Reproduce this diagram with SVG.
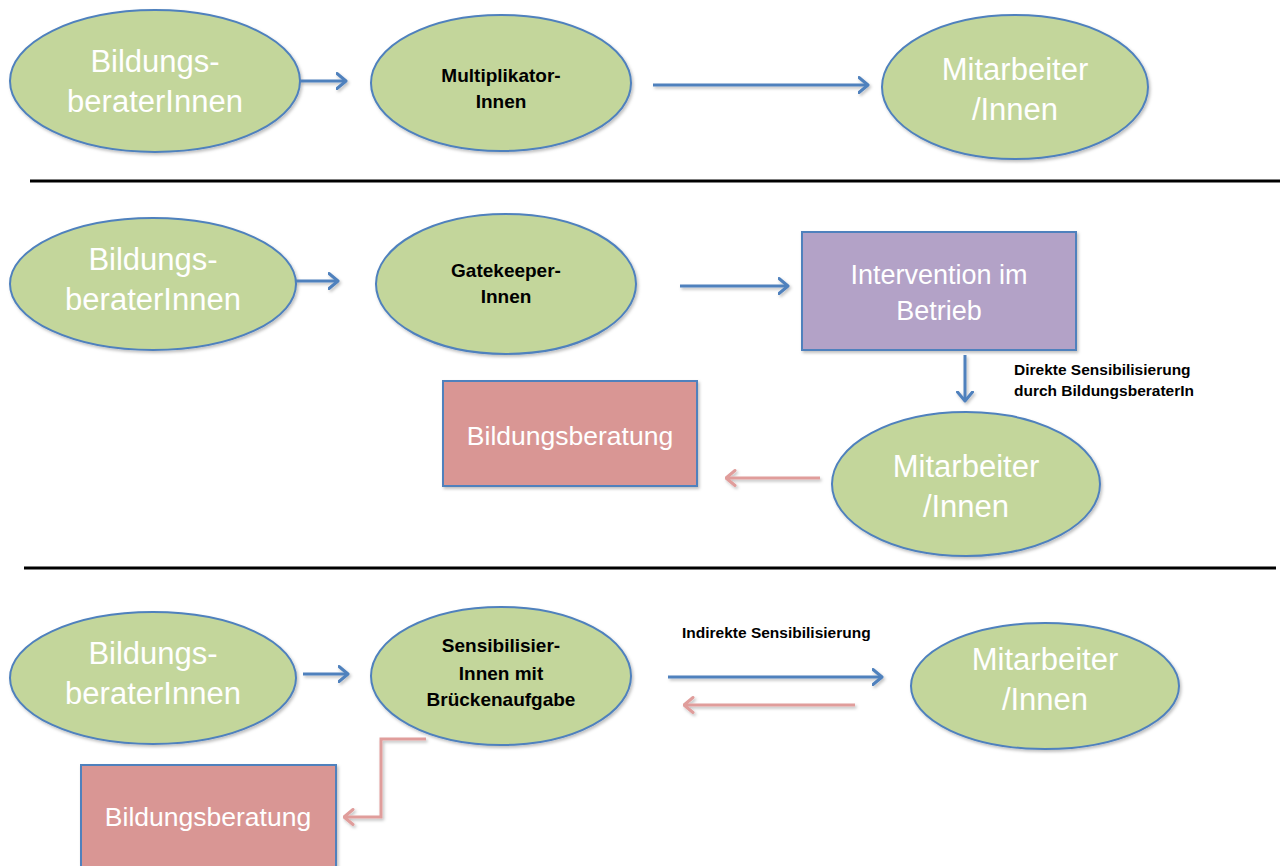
<svg xmlns="http://www.w3.org/2000/svg" width="1287" height="866" viewBox="0 0 1287 866">
<style>
.ell{fill:#c3d69b;stroke:#4f81bd;stroke-width:2;filter:url(#sh)}
.rp{fill:#d99694;stroke:#4f81bd;stroke-width:2;filter:url(#sh)}
.rv{fill:#b3a2c7;stroke:#4f81bd;stroke-width:2;filter:url(#sh)}
.big{font-family:"Liberation Sans",Arial,sans-serif;font-size:31px;fill:#ffffff;text-anchor:middle}
.rt{font-family:"Liberation Sans",Arial,sans-serif;font-size:26.5px;fill:#ffffff;text-anchor:middle}
.bold{font-family:"Liberation Sans",Arial,sans-serif;font-size:19px;font-weight:bold;fill:#000;text-anchor:middle}
.lbl{font-family:"Liberation Sans",Arial,sans-serif;font-size:15.5px;font-weight:bold;fill:#000}
.ab{fill:none;stroke:#4f81bd;stroke-width:3;marker-end:url(#mb);filter:url(#shl)}
.ap{fill:none;stroke:#e09d9b;stroke-width:3;marker-end:url(#mp);filter:url(#shl)}
.sep{stroke:#000;stroke-width:3}
</style>
<defs>
<filter id="sh" x="-10%" y="-10%" width="130%" height="130%">
<feDropShadow dx="1.5" dy="2" stdDeviation="1.5" flood-color="#000" flood-opacity="0.25"/>
</filter>
<filter id="shl" filterUnits="userSpaceOnUse" x="0" y="0" width="1287" height="866">
<feDropShadow dx="1.5" dy="2" stdDeviation="1.5" flood-color="#000" flood-opacity="0.25"/>
</filter>
<marker id="mb" viewBox="0 0 12 18" refX="10.5" refY="9" markerWidth="12" markerHeight="18" markerUnits="userSpaceOnUse" orient="auto">
<path d="M1.5,1.5 L10.5,9 L1.5,16.5" fill="none" stroke="#4f81bd" stroke-width="3" stroke-linecap="round" stroke-linejoin="round"/>
</marker>
<marker id="mp" viewBox="0 0 12 18" refX="10.5" refY="9" markerWidth="12" markerHeight="18" markerUnits="userSpaceOnUse" orient="auto">
<path d="M1.5,1.5 L10.5,9 L1.5,16.5" fill="none" stroke="#e09d9b" stroke-width="3" stroke-linecap="round" stroke-linejoin="round"/>
</marker>
</defs>
<rect width="1287" height="866" fill="#ffffff"/>

<g id="separators">
<line class="sep" x1="30" y1="181" x2="1280" y2="181"/>
<line class="sep" x1="24" y1="568" x2="1276" y2="568"/>
</g>

<!-- Row 1 -->
<g id="r1-berater"><ellipse class="ell" cx="155" cy="81" rx="145" ry="71"/><text class="big" x="155" y="72">Bildungs-</text><text class="big" x="155" y="112">beraterInnen</text></g>
<g id="r1-multi"><ellipse class="ell" cx="501" cy="83" rx="130" ry="68"/><text class="bold" x="501" y="82">Multiplikator-</text><text class="bold" x="501" y="108">Innen</text></g>
<g id="r1-mitarbeiter"><ellipse class="ell" cx="1015" cy="87" rx="133" ry="72"/><text class="big" x="1015" y="80">Mitarbeiter</text><text class="big" x="1015" y="120">/Innen</text></g>

<!-- Row 2 -->
<g id="r2-berater"><ellipse class="ell" cx="153" cy="284" rx="143" ry="66"/><text class="big" x="153" y="270">Bildungs-</text><text class="big" x="153" y="310">beraterInnen</text></g>
<g id="r2-gate"><ellipse class="ell" cx="506" cy="284" rx="130" ry="70"/><text class="bold" x="506" y="277">Gatekeeper-</text><text class="bold" x="506" y="303">Innen</text></g>
<g id="r2-intervention"><rect class="rv" x="802" y="232" width="274" height="118"/><text class="big" x="939" y="284" style="font-size:27px">Intervention im</text><text class="big" x="939" y="320" style="font-size:27px">Betrieb</text></g>
<g id="r2-mitarbeiter"><ellipse class="ell" cx="966" cy="484" rx="134" ry="72"/><text class="big" x="966" y="477">Mitarbeiter</text><text class="big" x="966" y="517">/Innen</text></g>
<g id="r2-bildungsberatung"><rect class="rp" x="443" y="381" width="254" height="105"/><text class="rt" x="570" y="445">Bildungsberatung</text></g>
<g id="r2-label"><text class="lbl" x="1014" y="375">Direkte Sensibilisierung</text><text class="lbl" x="1014" y="396">durch BildungsberaterIn</text></g>

<!-- Row 3 -->
<g id="r3-berater"><ellipse class="ell" cx="153" cy="678" rx="143" ry="66"/><text class="big" x="153" y="664">Bildungs-</text><text class="big" x="153" y="704">beraterInnen</text></g>
<g id="r3-sensi"><ellipse class="ell" cx="501" cy="676" rx="130" ry="69"/><text class="bold" x="501" y="652">Sensibilisier-</text><text class="bold" x="501" y="680">Innen mit</text><text class="bold" x="501" y="706">Brückenaufgabe</text></g>
<g id="r3-mitarbeiter"><ellipse class="ell" cx="1045" cy="686" rx="134" ry="63"/><text class="big" x="1045" y="670">Mitarbeiter</text><text class="big" x="1045" y="710">/Innen</text></g>
<g id="r3-bildungsberatung"><rect class="rp" x="81" y="765" width="255" height="110"/><text class="rt" x="208" y="826">Bildungsberatung</text></g>
<g id="r3-label"><text class="lbl" x="682" y="638">Indirekte Sensibilisierung</text></g>

<g id="connectors">
<line class="ab" x1="300" y1="81" x2="346" y2="81"/>
<line class="ab" x1="653" y1="85" x2="868" y2="85"/>
<line class="ab" x1="296" y1="281" x2="338" y2="281"/>
<line class="ab" x1="680" y1="286" x2="788" y2="286"/>
<line class="ab" x1="965" y1="355" x2="965" y2="401"/>
<line class="ap" x1="820" y1="478" x2="726" y2="478"/>
<line class="ab" x1="303" y1="674" x2="348" y2="674"/>
<line class="ab" x1="668" y1="677" x2="882" y2="677"/>
<line class="ap" x1="855" y1="705" x2="684" y2="705"/>
<polyline class="ap" points="426,739 381,739 381,817 344,817"/>
</g>
</svg>
